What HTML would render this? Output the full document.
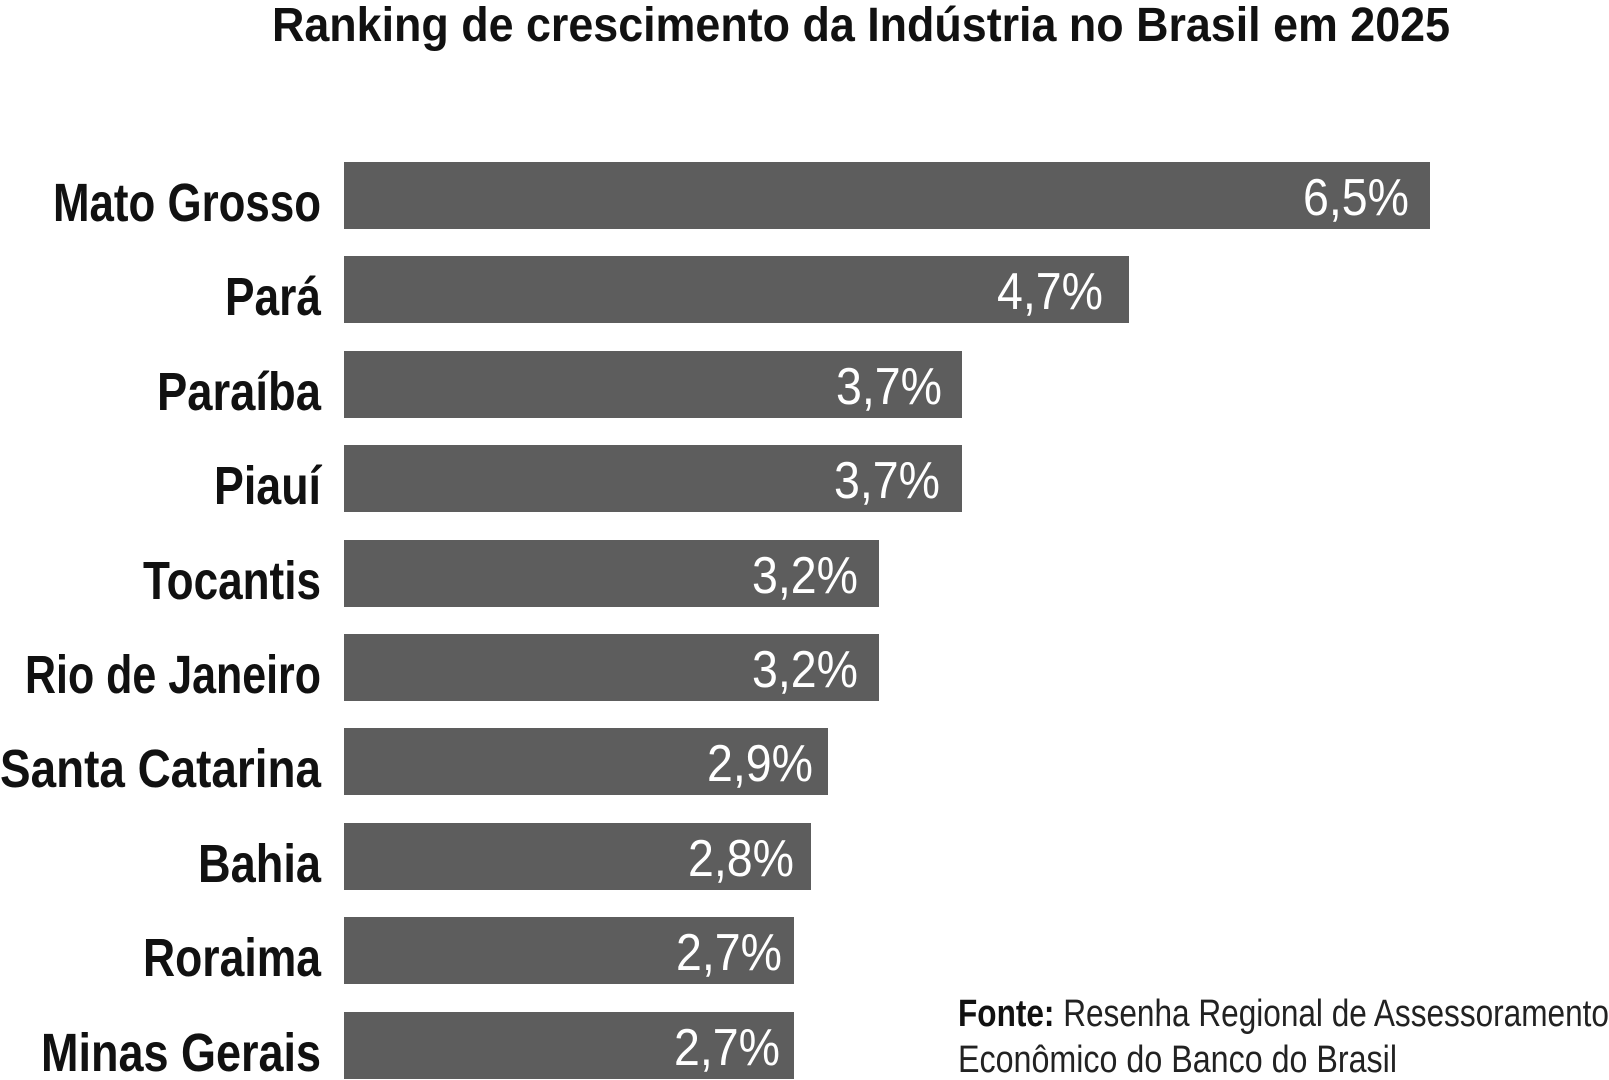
<!DOCTYPE html>
<html><head><meta charset="utf-8"><style>body{margin:0;background:#fff}svg{display:block}</style></head>
<body>
<svg width="1609" height="1080" xmlns="http://www.w3.org/2000/svg" font-family="Liberation Sans, sans-serif">
<rect width="1609" height="1080" fill="#fff"/>
<text x="272" y="41" font-size="48" font-weight="bold" fill="#111" textLength="1178" lengthAdjust="spacingAndGlyphs">Ranking de crescimento da Indústria no Brasil em 2025</text>
<g fill="#5d5d5d">
<rect x="344" y="162" width="1086" height="67"/>
<rect x="344" y="256" width="785" height="67"/>
<rect x="344" y="351" width="618" height="67"/>
<rect x="344" y="445" width="618" height="67"/>
<rect x="344" y="540" width="535" height="67"/>
<rect x="344" y="634" width="535" height="67"/>
<rect x="344" y="728" width="484" height="67"/>
<rect x="344" y="823" width="467" height="67"/>
<rect x="344" y="917" width="450" height="67"/>
<rect x="344" y="1012" width="450" height="67"/>
</g>
<g font-size="54" font-weight="bold" fill="#111" text-anchor="end">
<text x="321" y="221" textLength="268" lengthAdjust="spacingAndGlyphs">Mato Grosso</text>
<text x="321" y="315" textLength="96" lengthAdjust="spacingAndGlyphs">Pará</text>
<text x="321" y="410" textLength="164" lengthAdjust="spacingAndGlyphs">Paraíba</text>
<text x="321" y="504" textLength="107" lengthAdjust="spacingAndGlyphs">Piauí</text>
<text x="321" y="599" textLength="178" lengthAdjust="spacingAndGlyphs">Tocantis</text>
<text x="321" y="693" textLength="296" lengthAdjust="spacingAndGlyphs">Rio de Janeiro</text>
<text x="321" y="787" textLength="321" lengthAdjust="spacingAndGlyphs">Santa Catarina</text>
<text x="321" y="882" textLength="123" lengthAdjust="spacingAndGlyphs">Bahia</text>
<text x="321" y="976" textLength="178" lengthAdjust="spacingAndGlyphs">Roraima</text>
<text x="321" y="1071" textLength="280" lengthAdjust="spacingAndGlyphs">Minas Gerais</text>
</g>
<g font-size="52" fill="#fff" text-anchor="end">
<text x="1409" y="215" textLength="106" lengthAdjust="spacingAndGlyphs">6,5%</text>
<text x="1103" y="309" textLength="106" lengthAdjust="spacingAndGlyphs">4,7%</text>
<text x="942" y="404" textLength="106" lengthAdjust="spacingAndGlyphs">3,7%</text>
<text x="940" y="498" textLength="106" lengthAdjust="spacingAndGlyphs">3,7%</text>
<text x="858" y="593" textLength="106" lengthAdjust="spacingAndGlyphs">3,2%</text>
<text x="858" y="687" textLength="106" lengthAdjust="spacingAndGlyphs">3,2%</text>
<text x="813" y="781" textLength="106" lengthAdjust="spacingAndGlyphs">2,9%</text>
<text x="794" y="876" textLength="106" lengthAdjust="spacingAndGlyphs">2,8%</text>
<text x="782" y="970" textLength="106" lengthAdjust="spacingAndGlyphs">2,7%</text>
<text x="780" y="1065" textLength="106" lengthAdjust="spacingAndGlyphs">2,7%</text>
</g>
<text x="958" y="1026" font-size="38" fill="#222" textLength="651" lengthAdjust="spacingAndGlyphs"><tspan font-weight="bold" fill="#111">Fonte:</tspan> Resenha Regional de Assessoramento</text>
<text x="958" y="1072" font-size="38" fill="#222" textLength="439" lengthAdjust="spacingAndGlyphs">Econômico do Banco do Brasil</text>
</svg>
</body></html>
